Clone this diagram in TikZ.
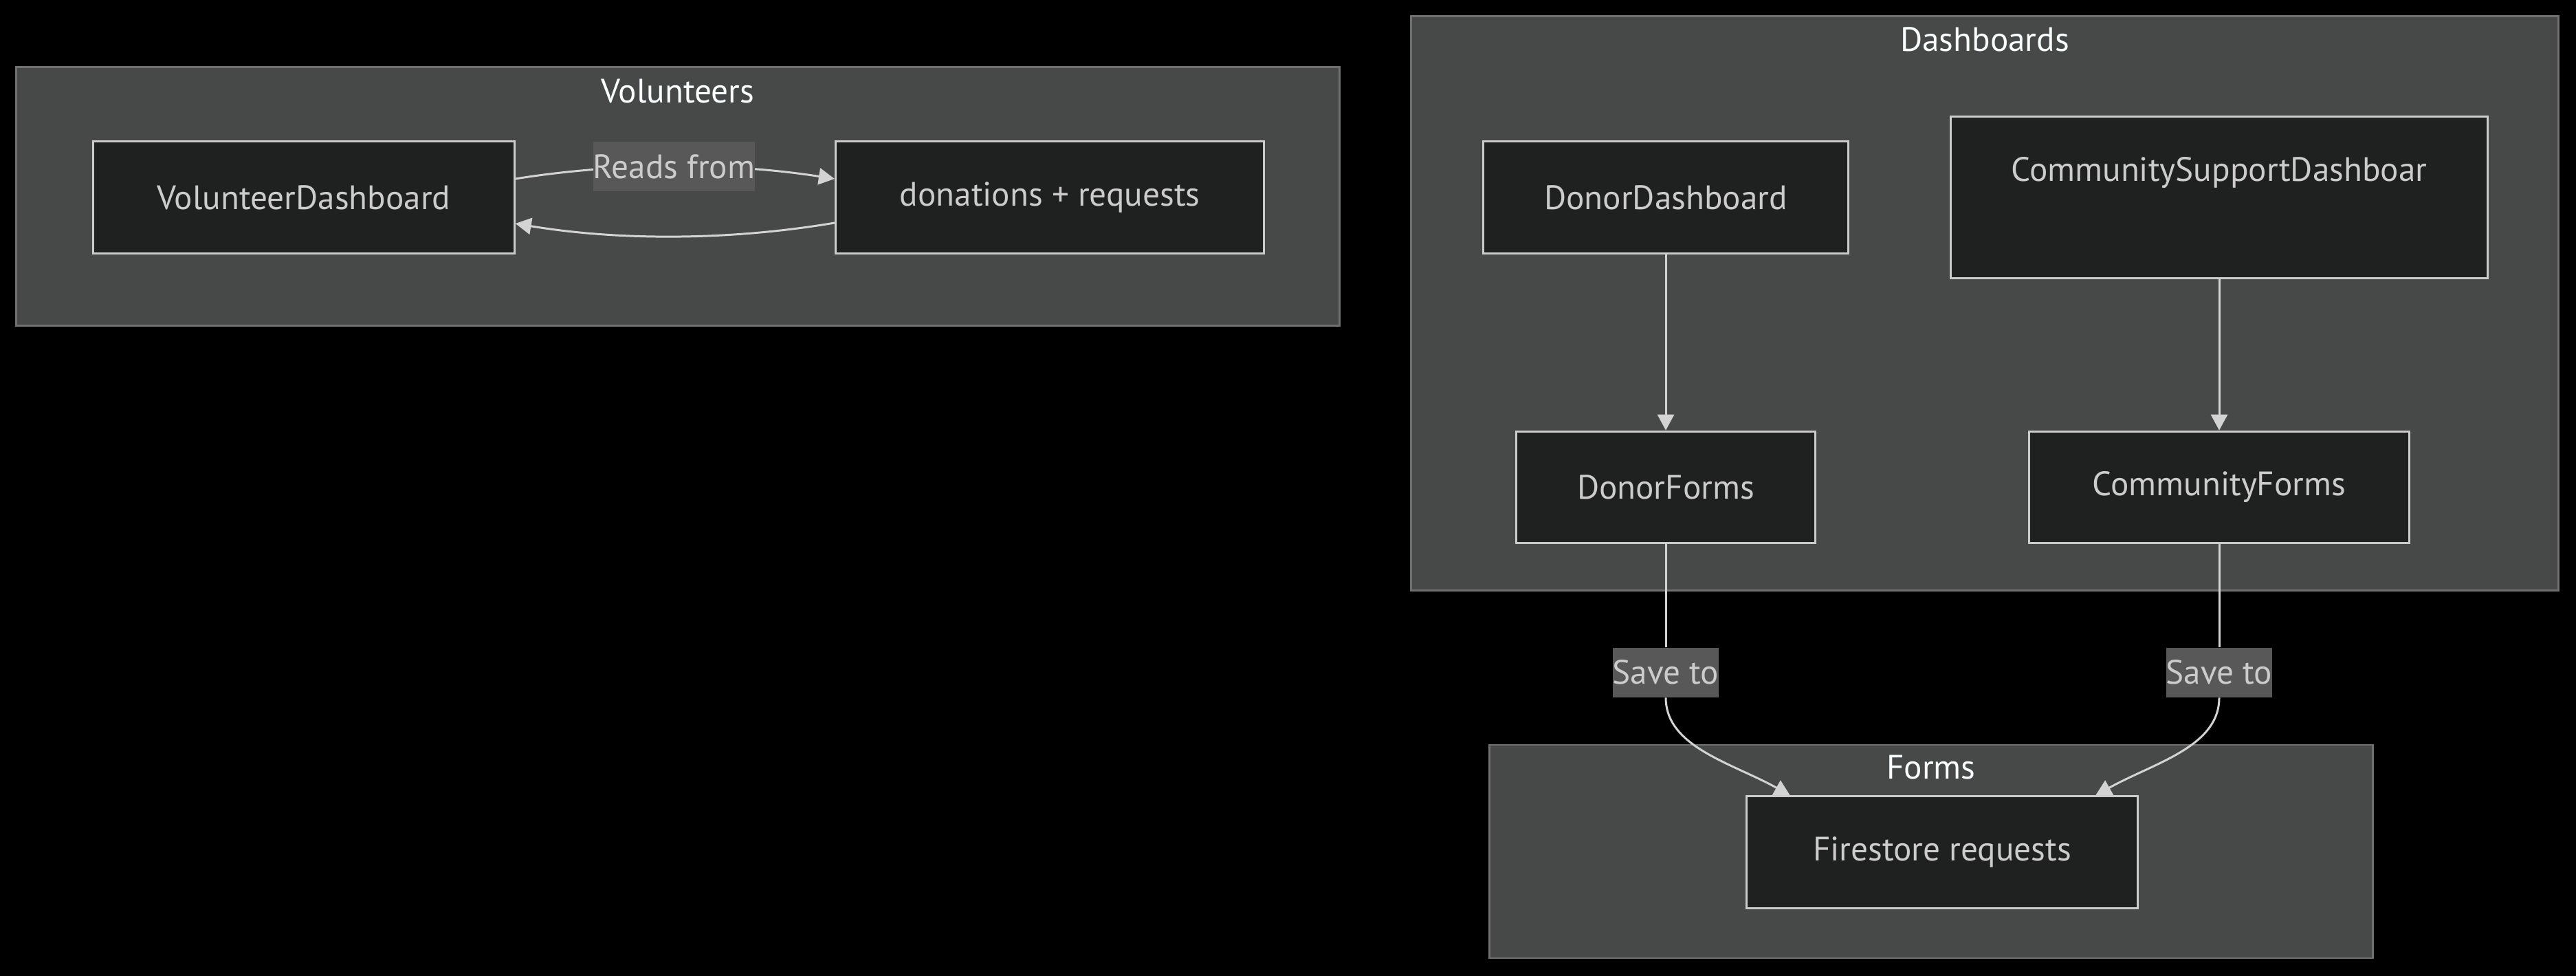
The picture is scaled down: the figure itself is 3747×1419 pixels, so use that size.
\documentclass[tikz,border=0pt]{standalone}
\usepackage{fontspec}
\setmainfont{PT Sans}
\usetikzlibrary{positioning, arrows.meta}
\definecolor{pagebg}{HTML}{000000}
\definecolor{clusterbg}{HTML}{474949}
\definecolor{clusterline}{HTML}{707070}
\definecolor{nodebg}{HTML}{1F2020}
\definecolor{nodeline}{HTML}{CCCCCC}
\definecolor{nodetext}{HTML}{CCCCCC}
\definecolor{titletext}{HTML}{F9FFFE}
\definecolor{labelbg}{HTML}{585858}
\definecolor{edgeline}{HTML}{D3D3D3}
\newcommand{\diagfont}{\fontsize{14pt}{17pt}\selectfont}

\begin{document}
\begin{tikzpicture}[
    x=0.01cm, y=-0.01cm,
    cluster/.style={
      draw=clusterline, fill=clusterbg, line width=0.8pt, inner sep=0pt
    },
    box/.style={
      draw=nodeline, fill=nodebg, text=nodetext, line width=0.85pt,
      minimum height=1.62cm, inner sep=0pt, font=\diagfont
    },
    clustertitle/.style={text=titletext, font=\diagfont, inner sep=0pt},
    lbl/.style={
      fill=labelbg, text=nodetext, font=\diagfont,
      inner xsep=0pt, inner ysep=0pt, minimum height=0.72cm
    },
    link/.style={draw=edgeline, line width=0.85pt},
    edge/.style={link, -{Triangle[length=0.23cm, width=0.24cm]}},
]
    \useasboundingbox (0,0) rectangle (3747,1419);
    \fill[pagebg] (0,0) rectangle (3747,1419);

    % Clusters
    \node[cluster, minimum width=19.24cm, minimum height=3.75cm] (vol) at (986,285.5) {};
    \node[cluster, minimum width=16.68cm, minimum height=8.34cm] (dash) at (2887,441) {};
    \node[cluster, minimum width=12.84cm, minimum height=3.10cm] (forms) at (2809,1238) {};

    \node[clustertitle] at ([yshift=-0.36cm]vol.north) {Volunteers};
    \node[clustertitle] at ([yshift=-0.35cm]dash.north) {Dashboards};
    \node[clustertitle] at ([yshift=-0.34cm]forms.north) {Forms};

    % Volunteers
    \node[box, minimum width=6.12cm] (vdash) at (442,287) {VolunteerDashboard};
    \node[box, minimum width=6.23cm, right=4.64cm of vdash] (dreq) {donations + requests};

    \draw[edge] ([yshift=0.27cm]vdash.east) .. controls (900,236) and (1060,236)
      .. node[lbl, pos=0.5] (reads) {Reads from} ([yshift=0.27cm]dreq.west);
    \draw[edge] ([yshift=-0.37cm]dreq.west) .. controls (1060,350) and (900,350)
      .. ([yshift=-0.38cm]vdash.east);

    % Dashboards
    \node[box, minimum width=5.30cm] (ddash) at (2423,287) {DonorDashboard};
    \node[box, minimum width=7.81cm, minimum height=2.34cm,
      text height=0.3cm, text depth=0.76cm] (csdash) at (3228,287) {CommunitySupportDashboar};
    \node[box, minimum width=4.35cm, below=2.56cm of ddash] (dforms) {DonorForms};
    \node[box, minimum width=5.52cm, below=2.20cm of csdash] (cforms) {CommunityForms};

    \draw[edge] (ddash) -- (dforms);
    \draw[edge] (csdash) -- (cforms);

    % Forms
    \node[box, minimum width=5.69cm, minimum height=1.62cm] (fire) at (2825,1239) {Firestore requests};

    \node[lbl, below=1.50cm of dforms] (savea) {Save to};
    \node[lbl, below=1.50cm of cforms] (saveb) {Save to};

    \draw[link] (dforms) -- (savea);
    \draw[link] (cforms) -- (saveb);
    \draw[edge] (savea.south) .. controls +(0,72) and +(-84,-47) .. ([xshift=-2.21cm]fire.north);
    \draw[edge] (saveb.south) .. controls +(0,72) and +(84,-47) .. ([xshift=2.23cm]fire.north);
\end{tikzpicture}
\end{document}
